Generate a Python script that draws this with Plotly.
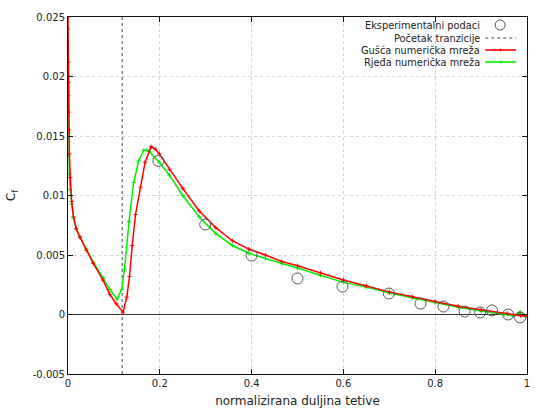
import plotly.graph_objects as go

# Experimental data
exp_x = [0.197, 0.299, 0.4, 0.5, 0.598, 0.699, 0.768, 0.818, 0.864, 0.898, 0.924, 0.959, 0.985]
exp_y = [0.0129, 0.00756, 0.00496, 0.00303, 0.00235, 0.00176, 0.00092, 0.00067, 0.00025, 0.00017, 0.00034, 0.0, -0.00025]

# Transition start
trans_x = 0.118

# Fine numerical grid (red)
fine_x = [0, 0.0005, 0.001, 0.0015, 0.002, 0.003, 0.005, 0.008, 0.012, 0.018, 0.026, 0.04, 0.055,
          0.076, 0.091, 0.105, 0.12, 0.128, 0.134, 0.14, 0.147, 0.158, 0.168, 0.181, 0.19, 0.199,
          0.221, 0.25, 0.286, 0.322, 0.358, 0.394, 0.43, 0.466, 0.5, 0.55, 0.6, 0.65, 0.7, 0.75,
          0.8, 0.85, 0.9, 0.957, 0.986, 1.0]
fine_y = [0.025, 0.0212, 0.0195, 0.017, 0.0155, 0.0135, 0.0115, 0.0095, 0.0082, 0.0072, 0.0065,
          0.0054, 0.0043, 0.0029, 0.0017, 0.0009, 0.0002, 0.00145, 0.0032, 0.0058, 0.0084, 0.0107,
          0.0128, 0.0141, 0.0139, 0.0135, 0.0122, 0.0106, 0.0087, 0.0073, 0.0062, 0.0055, 0.005,
          0.00445, 0.0041, 0.0035, 0.0029, 0.0024, 0.0019, 0.0015, 0.0011, 0.0007, 0.0004, 0.0001,
          -0.0001, -0.0001]

# Coarse numerical grid (green)
coarse_x = [0, 0.0005, 0.001, 0.0015, 0.002, 0.003, 0.005, 0.008, 0.012, 0.018, 0.026, 0.04, 0.055,
            0.076, 0.091, 0.107, 0.117, 0.123, 0.133, 0.143, 0.154, 0.165, 0.172, 0.177, 0.199,
            0.221, 0.25, 0.286, 0.322, 0.358, 0.394, 0.43, 0.466, 0.5, 0.55, 0.6, 0.65, 0.7, 0.75,
            0.8, 0.85, 0.9, 0.95, 0.97, 0.985, 0.993, 1.0]
coarse_y = [0.024, 0.0201, 0.0184, 0.0153, 0.0134, 0.0118, 0.0105, 0.0093, 0.0081, 0.0072, 0.0065,
            0.0055, 0.0044, 0.0031, 0.0021, 0.0013, 0.0021, 0.0038, 0.0078, 0.0111, 0.0129, 0.0138,
            0.0138, 0.0137, 0.0128, 0.0117, 0.01, 0.0082, 0.0068, 0.0058, 0.00515, 0.0047, 0.00426,
            0.0039, 0.0033, 0.0027, 0.0023, 0.0018, 0.0014, 0.001, 0.0006, 0.0003, 0.0, -0.0001,
            0.0002, -0.0001, -0.0001]

x_ticks = [0, 0.2, 0.4, 0.6, 0.8, 1]
x_tick_labels = ["0", "0.2", "0.4", "0.6", "0.8", "1"]
y_ticks = [-0.005, 0, 0.005, 0.01, 0.015, 0.02, 0.025]
y_tick_labels = ["-0.005", "0", "0.005", "0.01", "0.015", "0.02", "0.025"]

legend_labels = ["Eksperimentalni podaci", "Početak tranzicije",
                 "Gušća numerička mreža", "Rjeđa numerička mreža"]

FONT = "DejaVu Sans"
RED = "#ff0000"
GREEN = "#00ee00"
GREY = "#555555"

fig = go.Figure()

fig.add_trace(go.Scatter(x=[trans_x, trans_x], y=[-0.005, 0.025], mode="lines",
                         line=dict(color="#444444", width=1, dash="3px,3px"), showlegend=False))
fig.add_trace(go.Scatter(x=coarse_x, y=coarse_y, mode="lines+markers",
                         line=dict(color=GREEN, width=1.5),
                         marker=dict(symbol="cross-thin", size=3, line=dict(color=GREEN, width=1)),
                         showlegend=False))
fig.add_trace(go.Scatter(x=fine_x, y=fine_y, mode="lines+markers",
                         line=dict(color=RED, width=1.5),
                         marker=dict(symbol="cross-thin", size=3, line=dict(color=RED, width=1)),
                         showlegend=False))
fig.add_trace(go.Scatter(x=exp_x, y=exp_y, mode="markers",
                         marker=dict(symbol="circle-open", size=11, color=GREY,
                                     line=dict(color=GREY, width=1)),
                         showlegend=False))

# Manual legend (text right-aligned, sample on the right like gnuplot)
L, R, T, B = 68, 530, 17, 374
def px(x):
    return (x - L) / (R - L)
def py(y):
    return (B - y) / (B - T)

rows = [25, 38, 50, 62]
for lab, ry in zip(legend_labels, rows):
    fig.add_annotation(x=px(485), y=py(ry), xref="paper", yref="paper", text=lab,
                       showarrow=False, xanchor="right", yanchor="middle",
                       font=dict(family=FONT, size=9.8, color="#222222"))
# circle sample
fig.add_shape(type="circle", xref="paper", yref="paper",
              x0=px(498), x1=px(508), y0=py(rows[0] + 5), y1=py(rows[0] - 5),
              line=dict(color=GREY, width=1))
fig.add_shape(type="line", xref="paper", yref="paper", x0=px(488), x1=px(519),
              y0=py(rows[1]), y1=py(rows[1]), line=dict(color="#444444", width=1, dash="3px,3px"))
for col, ry in [(RED, rows[2]), (GREEN, rows[3])]:
    fig.add_shape(type="line", xref="paper", yref="paper", x0=px(488), x1=px(519),
                  y0=py(ry), y1=py(ry), line=dict(color=col, width=1.6))
    fig.add_shape(type="line", xref="paper", yref="paper", x0=px(503.5), x1=px(503.5),
                  y0=py(ry - 1.5), y1=py(ry + 1.5), line=dict(color=col, width=1))

fig.update_layout(
    width=535, height=410,
    margin=dict(l=68, r=5, t=17, b=36),
    paper_bgcolor="white", plot_bgcolor="white",
    font=dict(family=FONT, size=10, color="#222222"),
    showlegend=False,
)
fig.update_xaxes(range=[0, 1], tickvals=x_ticks, ticktext=x_tick_labels,
                 showline=True, linecolor="#111111", linewidth=1, mirror="allticks",
                 ticks="inside", ticklen=5, tickcolor="#111111",
                 showgrid=True, gridcolor="#d4d4d4", griddash="dot", gridwidth=1,
                 zeroline=False,
                 title=dict(text="normalizirana duljina tetive", font=dict(family=FONT, size=12),
                            standoff=8),
                 tickfont=dict(family=FONT, size=10))
fig.update_yaxes(range=[-0.005, 0.025], tickvals=y_ticks, ticktext=y_tick_labels,
                 showline=True, linecolor="#111111", linewidth=1, mirror="allticks",
                 ticks="inside", ticklen=5, tickcolor="#111111",
                 showgrid=True, gridcolor="#d4d4d4", griddash="dot", gridwidth=1,
                 zeroline=True, zerolinecolor="#333333", zerolinewidth=1,
                 title=dict(text="C<sub>f</sub>", font=dict(family=FONT, size=12), standoff=14),
                 tickfont=dict(family=FONT, size=10))

fig.write_html("out.html", config={"displayModeBar": False},
               post_script="document.body.style.margin='0';document.body.style.padding='0';")
